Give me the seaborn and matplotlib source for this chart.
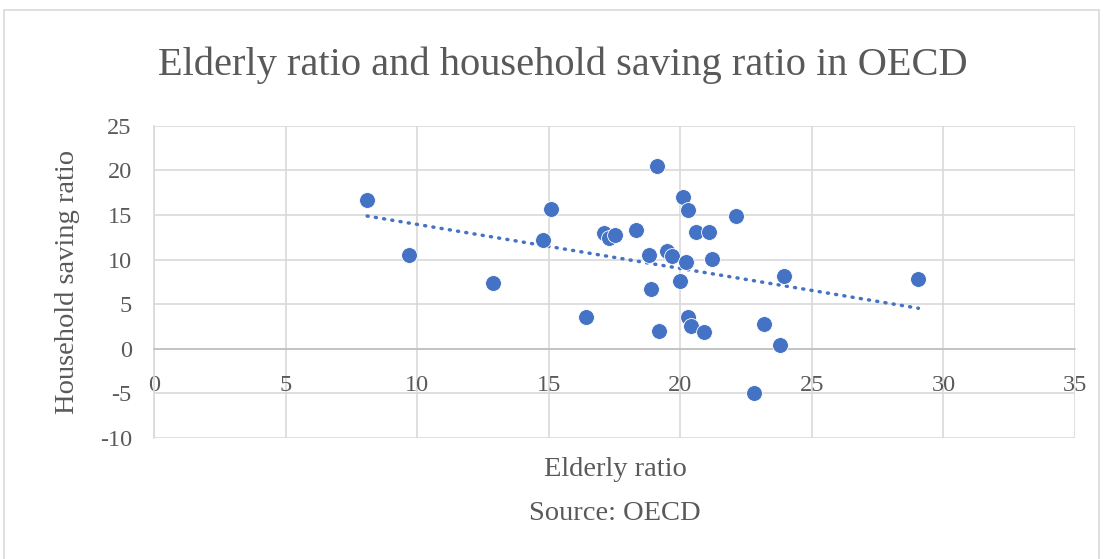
import numpy as np
import pandas as pd
import seaborn as sns
import matplotlib.pyplot as plt
from matplotlib.patches import Rectangle

# Elderly ratio (x) vs household saving ratio (y)
elderly_ratio = [8.1, 9.7, 12.9, 14.8, 15.1, 16.4, 17.1, 17.3, 17.5, 18.3,
                 18.8, 18.9, 19.1, 19.2, 19.5, 19.7, 20.0, 20.1, 20.2, 20.3,
                 20.3, 20.4, 20.6, 20.9, 21.1, 21.2, 22.1, 22.8, 23.2, 23.8,
                 23.95, 29.05]
saving_ratio = [16.7, 10.5, 7.4, 12.2, 15.7, 3.6, 13.0, 12.4, 12.7, 13.3,
                10.5, 6.7, 20.5, 2.0, 11.0, 10.4, 7.6, 17.0, 9.7, 15.5,
                3.6, 2.6, 13.1, 1.9, 13.1, 10.1, 14.9, -5.0, 2.8, 0.4,
                8.1, 7.8]
x_ticks = [0, 5, 10, 15, 20, 25, 30, 35]
y_ticks = [-10, -5, 0, 5, 10, 15, 20, 25]

df = pd.DataFrame({'elderly': elderly_ratio, 'saving': saving_ratio})

sns.set_style('white')
plt.rcParams['font.family'] = ['Liberation Serif', 'DejaVu Serif']

blue = '#4472C4'
gray_txt = '#595959'
grid_col = '#D9D9D9'

fig = plt.figure(figsize=(11.03, 5.59), dpi=100)
ax = fig.add_axes([154 / 1103, 1 - 438 / 559, (1075 - 154) / 1103, (438 - 125.7) / 559])

# outer chart border
fig.patches.append(Rectangle((4 / 1103, -0.05), (1099 - 4) / 1103, 1.05 - 10 / 559,
                             transform=fig.transFigure, fill=False,
                             edgecolor='#D9D9D9', linewidth=1.2))

sns.regplot(data=df, x='elderly', y='saving', scatter=False, ci=None, ax=ax,
            line_kws=dict(color=blue, linewidth=2.5, linestyle=(0, (0.3, 2.1)),
                          dash_capstyle='round'))
sns.scatterplot(data=df, x='elderly', y='saving', ax=ax, color=blue, s=130,
                edgecolor='white', linewidth=0.6, zorder=3)

ax.set_xlim(0, 35)
ax.set_ylim(-10, 25)
ax.set_xticks(x_ticks)
ax.set_yticks(y_ticks)
ax.set_xticklabels([str(t) for t in x_ticks])
ax.set_yticklabels([str(t) for t in y_ticks])
ax.grid(True, color=grid_col, linewidth=1.2)
ax.set_axisbelow(True)

for s in ['top', 'right']:
    ax.spines[s].set_visible(False)
ax.spines['left'].set_color(grid_col)
ax.spines['left'].set_linewidth(1.2)
ax.spines['bottom'].set_position(('data', 0))
ax.spines['bottom'].set_color('#BFBFBF')
ax.spines['bottom'].set_linewidth(1.2)

ax.tick_params(axis='both', length=0, labelsize=17.5, labelcolor=gray_txt)
ax.tick_params(axis='x', pad=19)
ax.tick_params(axis='y', pad=16)

ax.set_xlabel('')
ax.set_ylabel('Household saving ratio', fontsize=20.5, color=gray_txt)
ax.yaxis.set_label_coords(-0.0803, 0.5)

fig.text(615 / 1103, 1 - 470 / 559, 'Elderly ratio', fontsize=20.5, color=gray_txt,
         ha='center', va='center')
fig.text(615 / 1103, 1 - 514 / 559, 'Source: OECD', fontsize=20.5, color=gray_txt,
         ha='center', va='center')
fig.text(563 / 1103, 1 - 65 / 559, 'Elderly ratio and household saving ratio in OECD',
         fontsize=29.2, color=gray_txt, ha='center', va='center')

fig.savefig('out.png', dpi=100, facecolor='white')
